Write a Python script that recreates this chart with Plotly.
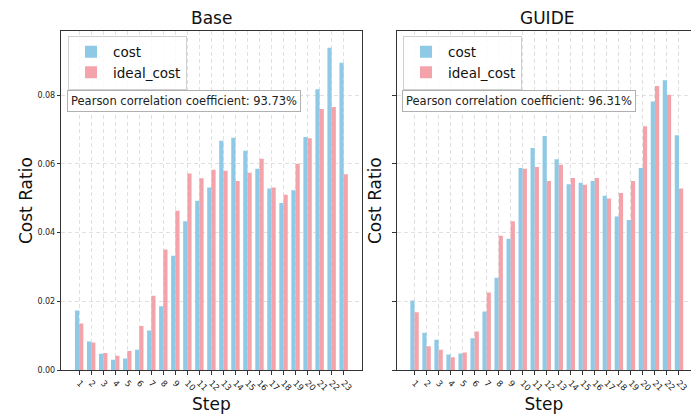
import plotly.graph_objects as go

steps = list(range(1, 24))
tick_labels = [str(s) for s in steps]

base_cost = [0.0174, 0.0084, 0.0048, 0.0031, 0.0034, 0.0060, 0.0116, 0.0186, 0.0333, 0.0433,
             0.0493, 0.0531, 0.0667, 0.0676, 0.0638, 0.0586, 0.0528, 0.0486, 0.0523, 0.0678,
             0.0817, 0.0937, 0.0894]
base_ideal = [0.0136, 0.0081, 0.0050, 0.0042, 0.0056, 0.0129, 0.0217, 0.0351, 0.0464, 0.0572,
              0.0558, 0.0583, 0.0580, 0.0550, 0.0574, 0.0615, 0.0531, 0.0510, 0.0600, 0.0674,
              0.0759, 0.0765, 0.0570]
guide_cost = [0.0203, 0.0109, 0.0089, 0.0046, 0.0049, 0.0093, 0.0171, 0.0269, 0.0382, 0.0588,
              0.0646, 0.0681, 0.0613, 0.0541, 0.0545, 0.0550, 0.0507, 0.0447, 0.0437, 0.0588,
              0.0781, 0.0843, 0.0683]
guide_ideal = [0.0169, 0.0070, 0.0060, 0.0038, 0.0052, 0.0113, 0.0226, 0.0391, 0.0433, 0.0586,
               0.0591, 0.0550, 0.0597, 0.0559, 0.0539, 0.0559, 0.0499, 0.0515, 0.0550, 0.0709,
               0.0826, 0.0801, 0.0528]
panel_titles = ["Base", "GUIDE"]
pearson = ["93.73%", "96.31%"]

COST = "#8ECAE6"
IDEAL = "#F4A3AA"
FONT = "DejaVu Sans"
W, H = 691, 416

def px(v):
    return v / W

def py(v):
    return 1 - v / H

fig = go.Figure()
panels = [(base_cost, base_ideal, "x", "y", "legend"),
          (guide_cost, guide_ideal, "x2", "y2", "legend2")]
for cost, ideal, xa, ya, lg in panels:
    fig.add_trace(go.Bar(x=steps, y=cost, name="cost", offset=-0.35, width=0.35,
                         marker=dict(color=COST, line=dict(width=0)),
                         xaxis=xa, yaxis=ya, legend=lg))
    fig.add_trace(go.Bar(x=steps, y=ideal, name="ideal_cost", offset=0, width=0.35,
                         marker=dict(color=IDEAL, line=dict(width=0)),
                         xaxis=xa, yaxis=ya, legend=lg))

GRID = "#e0e0e0"
y_dom = [py(370.3), py(31)]
common_x = dict(tickmode="array", tickvals=steps, ticktext=tick_labels, tickangle=45,
                ticks="outside", ticklen=3.5, tickcolor="#333", tickwidth=0.8,
                tickfont=dict(size=8.5, color="#222"),
                showgrid=True, gridcolor=GRID, griddash="4px,3px", gridwidth=0.8,
                showline=True, linecolor="#333", linewidth=1, mirror=True,
                zeroline=False, automargin=False,
                title=dict(text="Step", font=dict(size=17, color="#111"), standoff=6))
common_y = dict(range=[0, 0.0986], tickmode="linear", tick0=0, dtick=0.02, tickformat=".2f",
                ticks="outside", ticklen=3.5, tickcolor="#333", tickwidth=0.8,
                tickfont=dict(size=8, color="#222"),
                showgrid=True, gridcolor=GRID, griddash="4px,3px", gridwidth=0.8,
                showline=True, linecolor="#333", linewidth=1,
                zeroline=False, automargin=False)

legend_style = dict(yanchor="top", xanchor="left",
                    bgcolor="rgba(255,255,255,0.8)", bordercolor="#d0d0d0", borderwidth=1,
                    font=dict(size=13.5, color="#111"), itemwidth=34, tracegroupgap=0)

fig.update_layout(
    width=W, height=H,
    margin=dict(l=0, r=0, t=0, b=0, autoexpand=False),
    paper_bgcolor="white", plot_bgcolor="white",
    font=dict(family=FONT, color="#222"),
    barmode="overlay",
    xaxis=dict(common_x, domain=[px(61.3), px(361.5)], range=[-0.485, 24.485], anchor="y"),
    yaxis=dict(common_y, domain=y_dom, anchor="x", mirror=True,
               title=dict(text="Cost Ratio", font=dict(size=17, color="#111"), standoff=0)),
    xaxis2=dict(common_x, domain=[px(396.7), 1.0], range=[-0.485, 24.0], anchor="y2"),
    yaxis2=dict(common_y, domain=y_dom, anchor="x2", mirror=False, showticklabels=False,
                title=dict(text="Cost Ratio", font=dict(size=17, color="#111"), standoff=6)),
    legend=dict(legend_style, x=px(68), y=py(35.5)),
    legend2=dict(legend_style, x=px(403), y=py(35.5)),
    showlegend=True,
)

annotations = []
centers = [(61.3 + 361.5) / 2, (396.7 + 696.9) / 2]
box_x = [66.7, 401.7]
for i in range(2):
    annotations.append(dict(text=panel_titles[i], x=px(centers[i]), y=py(18),
                            xref="paper", yref="paper", xanchor="center", yanchor="middle",
                            showarrow=False, font=dict(size=17, color="#111")))
    annotations.append(dict(text="Pearson correlation coefficient: " + pearson[i],
                            x=px(box_x[i]), y=py(101.5), xref="paper", yref="paper",
                            xanchor="left", yanchor="middle", showarrow=False,
                            font=dict(size=11.5, color="#222"),
                            bgcolor="white", bordercolor="#b0b0b0", borderwidth=1, borderpad=3))
fig.update_layout(annotations=annotations)

fig.write_html("out.html", config={"displayModeBar": False},
               post_script="document.body.style.margin='0';document.body.style.overflow='hidden';")
